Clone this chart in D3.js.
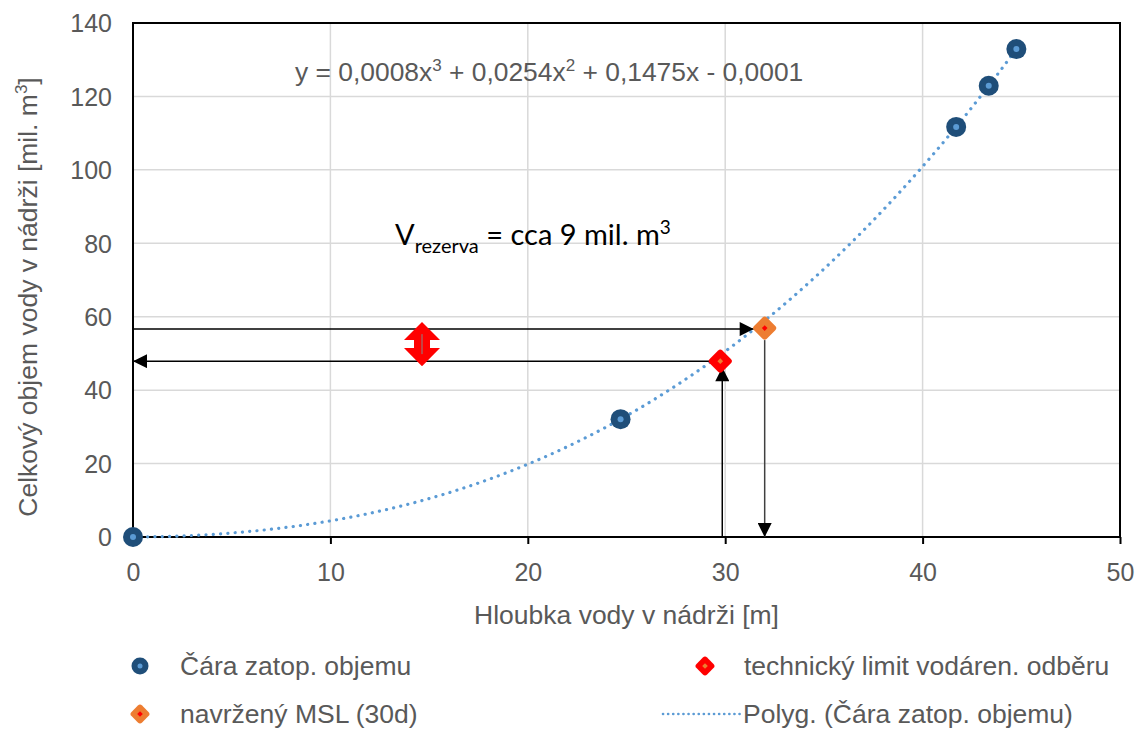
<!DOCTYPE html>
<html><head><meta charset="utf-8">
<script src="https://cdn.jsdelivr.net/npm/d3@7"></script>
<style>body{margin:0;background:#fff}svg{display:block}</style>
</head><body>
<svg id="c" width="1139" height="729"></svg>
<script>
// ---- data ----
const depths = [0, 24.7, 41.7, 43.35, 44.75];
const volumes = [0, 32.1, 111.7, 122.9, 132.9];
const techLimit = [29.75, 47.9];
const msl = [32.0, 56.9];
const xTicks = [0, 10, 20, 30, 40, 50];
const yTicks = [0, 20, 40, 60, 80, 100, 120, 140];
const seriesNames = ["Čára zatop. objemu", "technický limit vodáren. odběru", "navržený MSL (30d)", "Polyg. (Čára zatop. objemu)"];
const equationText = "y = 0,0008x³ + 0,0254x² + 0,1475x - 0,0001";

const svg = d3.select("#c");
const L = 133, R = 1120, T = 23, B = 537;
const x = d3.scaleLinear().domain([0, 50]).range([L, R]);
const y = d3.scaleLinear().domain([0, 140]).range([B, T]);
const gray = "#595959", font = "'Liberation Sans', Arial, sans-serif";

// gridlines
svg.append("g").selectAll("line.v").data(xTicks.slice(1, -1)).join("line")
  .attr("x1", d => x(d)).attr("x2", d => x(d)).attr("y1", T).attr("y2", B)
  .attr("stroke", "#d9d9d9").attr("stroke-width", 1.5);
svg.append("g").selectAll("line.h").data(yTicks.slice(1, -1)).join("line")
  .attr("y1", d => y(d)).attr("y2", d => y(d)).attr("x1", L).attr("x2", R)
  .attr("stroke", "#d9d9d9").attr("stroke-width", 1.5);

// frame
svg.append("rect").attr("x", L).attr("y", T).attr("width", R - L).attr("height", B - T)
  .attr("fill", "none").attr("stroke", "#000").attr("stroke-width", 2);

// x axis
const xa = svg.append("g").attr("transform", `translate(0,${B})`)
  .call(d3.axisBottom(x).tickValues(xTicks).tickSize(7).tickSizeOuter(0).tickPadding(19).tickFormat(d3.format("d")));
xa.select(".domain").remove();
xa.selectAll("line").attr("stroke", "#000").attr("stroke-width", 2);
xa.selectAll("text").attr("fill", gray).attr("font-size", 25).attr("font-family", font);

// y axis
const ya = svg.append("g").attr("transform", `translate(${L},0)`)
  .call(d3.axisLeft(y).tickValues(yTicks).tickSize(0).tickPadding(21).tickFormat(d3.format("d")));
ya.select(".domain").remove();
ya.selectAll("text").attr("fill", gray).attr("font-size", 25).attr("font-family", font).attr("dy", "0.35em");

// axis titles
svg.append("text").attr("x", (L + R) / 2).attr("y", 624).attr("text-anchor", "middle")
  .attr("fill", gray).attr("font-size", 26.5).attr("font-family", font).text("Hloubka vody v nádrži [m]");
const yt = svg.append("text").attr("transform", `translate(37,${(T + B) / 2 + 17}) rotate(-90)`)
  .attr("text-anchor", "middle").attr("fill", gray).attr("font-size", 26.5).attr("font-family", font);
yt.append("tspan").text("Celkový objem vody v nádrži [mil. m");
yt.append("tspan").attr("font-size", 17).attr("dy", -10).text("3");
yt.append("tspan").attr("dy", 10).text("]");

// cubic least-squares trendline from data points
function cubicFit(xs, ys) {
  const n = 4, A = [];
  for (let i = 0; i < n; i++) {
    A.push([]);
    for (let j = 0; j < n; j++) A[i].push(d3.sum(xs, v => Math.pow(v, i + j)));
    A[i].push(d3.sum(xs, (v, k) => Math.pow(v, i) * ys[k]));
  }
  for (let i = 0; i < n; i++) {
    let p = i; for (let r = i + 1; r < n; r++) if (Math.abs(A[r][i]) > Math.abs(A[p][i])) p = r;
    [A[i], A[p]] = [A[p], A[i]];
    for (let r = 0; r < n; r++) if (r !== i) {
      const f = A[r][i] / A[i][i];
      for (let c = i; c <= n; c++) A[r][c] -= f * A[i][c];
    }
  }
  return A.map((row, i) => row[n] / row[i]);
}
const coef = cubicFit(depths, volumes);
const fx = v => coef[0] + coef[1] * v + coef[2] * v * v + coef[3] * v * v * v;
const xmax = d3.max(depths);
const curvePts = d3.range(0, xmax + 1e-9, xmax / 200).map(v => [v, fx(v)]);
svg.append("path").datum(curvePts)
  .attr("d", d3.line().x(d => x(d[0])).y(d => y(d[1])))
  .attr("fill", "none").attr("stroke", "#5b9bd5").attr("stroke-width", 3.2)
  .attr("stroke-dasharray", "0.1 7.2").attr("stroke-linecap", "round");

// arrows
svg.append("defs").append("marker").attr("id", "ah").attr("viewBox", "0 0 10 10")
  .attr("refX", 10).attr("refY", 5).attr("markerWidth", 15).attr("markerHeight", 14)
  .attr("markerUnits", "userSpaceOnUse").attr("orient", "auto")
  .append("path").attr("d", "M0,0L10,5L0,10Z").attr("fill", "#000");
function arrow(x1, y1, x2, y2, col) {
  svg.append("line").attr("x1", x1).attr("y1", y1).attr("x2", x2).attr("y2", y2)
    .attr("stroke", col || "#000").attr("stroke-width", 1.5).attr("marker-end", "url(#ah)");
}
arrow(x(0), y(msl[1]) + 1, x(msl[0]) - 11, y(msl[1]) + 1);
arrow(x(techLimit[0]), y(techLimit[1]), x(0), y(techLimit[1]));
arrow(x(techLimit[0]) + 2, B, x(techLimit[0]) + 2, y(techLimit[1]) + 6);
arrow(x(msl[0]), y(msl[1]) + 12, x(msl[0]), B, "#404040");

// red double arrow
const dax = 422, day1 = y(msl[1]) - 6, day2 = y(techLimit[1]) + 5, dm = (day1 + day2) / 2;
svg.append("path").attr("fill", "#ff0000")
  .attr("d", `M${dax},${day1} L${dax + 18},${dm - 4} L${dax + 8},${dm - 4} L${dax + 8},${dm + 4} L${dax + 18},${dm + 4} L${dax},${day2} L${dax - 18},${dm + 4} L${dax - 8},${dm + 4} L${dax - 8},${dm - 4} L${dax - 18},${dm - 4} Z`);
svg.append("line").attr("x1", dax).attr("x2", dax).attr("y1", dm - 10).attr("y2", dm + 10)
  .attr("stroke", "#888").attr("stroke-width", 1);

// markers
function diamond(g, cx, cy, s, fill, inner) {
  g.append("rect").attr("x", -s / 2).attr("y", -s / 2).attr("width", s).attr("height", s).attr("rx", 3)
    .attr("fill", fill).attr("transform", `translate(${cx},${cy}) rotate(45)`);
  g.append("rect").attr("x", -2).attr("y", -2).attr("width", 4).attr("height", 4)
    .attr("fill", inner).attr("transform", `translate(${cx},${cy}) rotate(45)`);
}
svg.append("g").selectAll("circle").data(depths.map((d, i) => [d, volumes[i]])).join("circle")
  .attr("cx", d => x(d[0])).attr("cy", d => y(d[1])).attr("r", 10).attr("fill", "#1f4e79");
svg.append("g").selectAll("circle").data(depths.map((d, i) => [d, volumes[i]])).join("circle")
  .attr("cx", d => x(d[0])).attr("cy", d => y(d[1])).attr("r", 3).attr("fill", "#5b9bd5");
diamond(svg, x(techLimit[0]), y(techLimit[1]), 18, "#ff0000", "#ed7d31");
diamond(svg, x(msl[0]), y(msl[1]), 18, "#ed7d31", "#ff0000");

// equation
const eq = svg.append("text").attr("x", 295).attr("y", 71).attr("fill", gray)
  .attr("font-size", 26.4).attr("font-family", font);
equationText.split(/([³²])/).forEach(p => {
  if (p === "³" || p === "²") eq.append("tspan").attr("font-size", 17).attr("dy", -10).text(p === "³" ? "3" : "2");
  else if (p) eq.append("tspan").attr("dy", eq.selectAll("tspan").size() ? 10 : 0).text(p);
});

// V rezerva
const vr = svg.append("text").attr("x", 395).attr("y", 245).attr("fill", "#000")
  .attr("font-size", 29).attr("font-family", "Lato, 'Open Sans', sans-serif");
vr.append("tspan").text("V");
vr.append("tspan").attr("font-size", 20).attr("dy", 8).text("rezerva");
vr.append("tspan").attr("dy", -8).text(" = cca 9 mil. m");
vr.append("tspan").attr("font-size", 19).attr("dy", -11).text("3");

// legend
const lg = svg.append("g").attr("font-family", font).attr("font-size", 26.5).attr("fill", gray);
lg.append("circle").attr("cx", 140).attr("cy", 666).attr("r", 8.5).attr("fill", "#1f4e79");
lg.append("circle").attr("cx", 140).attr("cy", 666).attr("r", 2.5).attr("fill", "#5b9bd5");
lg.append("text").attr("x", 180).attr("y", 666).attr("dy", "0.35em").text(seriesNames[0]);
diamond(lg, 705, 666, 15, "#ff0000", "#ed7d31");
lg.append("text").attr("x", 744).attr("y", 666).attr("dy", "0.35em").text(seriesNames[1]);
diamond(lg, 140, 714, 15, "#ed7d31", "#ff0000");
lg.append("text").attr("x", 180).attr("y", 714).attr("dy", "0.35em").text(seriesNames[2]);
lg.append("line").attr("x1", 663).attr("x2", 740).attr("y1", 714).attr("y2", 714)
  .attr("stroke", "#5b9bd5").attr("stroke-width", 2.6).attr("stroke-dasharray", "0.1 5").attr("stroke-linecap", "round");
lg.append("text").attr("x", 743).attr("y", 714).attr("dy", "0.35em").text(seriesNames[3]);
</script>
</body></html>
